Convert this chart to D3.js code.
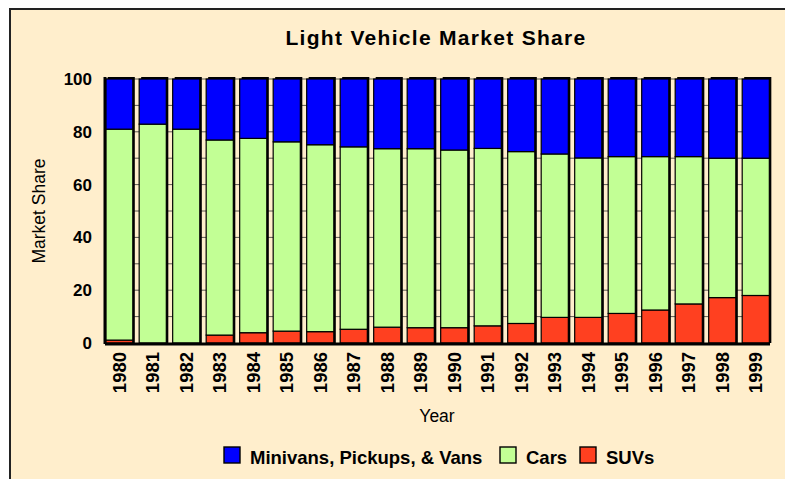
<!DOCTYPE html>
<html>
<head>
<meta charset="utf-8">
<script src="https://cdn.jsdelivr.net/npm/d3@7"></script>
<style>
  body { margin: 0; background: #fff; }
  text { font-family: "Liberation Sans", Arial, sans-serif; }
</style>
</head>
<body>
<script>
// Data
const years = ["1980","1981","1982","1983","1984","1985","1986","1987","1988","1989",
               "1990","1991","1992","1993","1994","1995","1996","1997","1998","1999"];
const suvs     = [1.1, 0.0, 0.0, 3.0, 3.9, 4.5, 4.3, 5.2, 6.0, 5.8, 5.8, 6.5, 7.4, 9.7, 9.7, 11.2, 12.5, 14.8, 17.2, 18.0];
const cars     = [79.9, 82.9, 81.0, 73.9, 73.6, 71.7, 70.8, 69.1, 67.6, 67.8, 67.3, 67.2, 65.1, 61.9, 60.4, 59.4, 58.1, 55.8, 52.8, 52.0];
const minivans = [19.0, 17.1, 19.0, 23.1, 22.5, 23.8, 24.9, 25.7, 26.4, 26.4, 26.9, 26.3, 27.5, 28.4, 29.9, 29.4, 29.4, 29.4, 30.0, 30.0];
const yTicks = [0, 20, 40, 60, 80, 100];

const seriesNames = ["SUVs", "Cars", "Minivans, Pickups, & Vans"];
const colors = { "SUVs": "#FF4020", "Cars": "#C2FF95", "Minivans, Pickups, & Vans": "#0000FF" };

const width = 785, height = 479;
const plot = { left: 105, right: 770, top: 79, bottom: 343 };

const svg = d3.select("body").append("svg")
  .attr("width", width)
  .attr("height", height);

// chart background frame
svg.append("rect")
  .attr("x", 10).attr("y", 9)
  .attr("width", width + 10).attr("height", height + 10)
  .attr("fill", "#FFEECC")
  .attr("stroke", "#222")
  .attr("stroke-width", 2);

const rows = years.map((y, i) => ({
  year: y,
  "SUVs": suvs[i],
  "Cars": cars[i],
  "Minivans, Pickups, & Vans": minivans[i]
}));

const stacked = d3.stack().keys(seriesNames)(rows);

const x = d3.scaleBand()
  .domain(years)
  .range([plot.left, plot.right])
  .paddingInner(0.19)
  .paddingOuter(0.02);

const y = d3.scaleLinear()
  .domain([0, 100])
  .range([plot.bottom, plot.top]);

// gridlines every 10 behind bars
svg.append("g")
  .selectAll("line")
  .data(d3.range(10, 101, 10))
  .enter().append("line")
  .attr("x1", plot.left).attr("x2", plot.right)
  .attr("y1", d => y(d)).attr("y2", d => y(d))
  .attr("stroke", "#333")
  .attr("stroke-width", 0.8);

// shadows
svg.append("g")
  .selectAll("rect")
  .data(rows)
  .enter().append("rect")
  .attr("x", d => x(d.year) + 2)
  .attr("y", y(100) - 2)
  .attr("width", x.bandwidth())
  .attr("height", y(0) - y(100) + 2)
  .attr("fill", "#000");

// stacked bars
svg.append("g")
  .selectAll("g")
  .data(stacked)
  .enter().append("g")
  .attr("fill", d => colors[d.key])
  .selectAll("rect")
  .data(d => d)
  .enter().append("rect")
  .attr("x", d => x(d.data.year))
  .attr("y", d => y(d[1]))
  .attr("width", x.bandwidth())
  .attr("height", d => y(d[0]) - y(d[1]))
  .attr("stroke", "#000")
  .attr("stroke-width", 1.2);

// axis lines
svg.append("line")
  .attr("x1", plot.left).attr("x2", plot.left)
  .attr("y1", plot.top - 2).attr("y2", plot.bottom + 1)
  .attr("stroke", "#000").attr("stroke-width", 3);
svg.append("line")
  .attr("x1", plot.left).attr("x2", plot.right)
  .attr("y1", plot.bottom + 1).attr("y2", plot.bottom + 1)
  .attr("stroke", "#000").attr("stroke-width", 3);

// y axis
const yAxis = d3.axisLeft(y).tickValues(yTicks).tickSize(0).tickPadding(13);
const yg = svg.append("g")
  .attr("transform", `translate(${plot.left},0)`)
  .call(yAxis);
yg.select(".domain").remove();
yg.selectAll("text")
  .style("font-family", "Liberation Sans, Arial, sans-serif")
  .style("font-size", "17px")
  .style("font-weight", "bold")
  .attr("fill", "#000");

// x axis
const xAxis = d3.axisBottom(x).tickSize(0);
const xg = svg.append("g")
  .attr("transform", `translate(0,${plot.bottom})`)
  .call(xAxis);
xg.select(".domain").remove();
xg.selectAll("text")
  .attr("transform", "rotate(-90)")
  .attr("x", -9)
  .attr("y", 0)
  .attr("dy", "0.35em")
  .style("text-anchor", "end")
  .style("font-family", "Liberation Sans, Arial, sans-serif")
  .style("font-size", "18.5px")
  .style("font-weight", "bold")
  .attr("fill", "#000");

// title
svg.append("text")
  .attr("x", 436)
  .attr("y", 45)
  .attr("text-anchor", "middle")
  .style("font-size", "21px")
  .style("font-weight", "bold")
  .style("letter-spacing", "1.3px")
  .text("Light Vehicle Market Share");

// axis titles
svg.append("text")
  .attr("x", 437)
  .attr("y", 422)
  .attr("text-anchor", "middle")
  .style("font-size", "17.5px")
  .text("Year");

svg.append("text")
  .attr("transform", "rotate(-90)")
  .attr("x", -211)
  .attr("y", 45)
  .attr("text-anchor", "middle")
  .style("font-size", "17.5px")
  .text("Market Share");

// legend
const legendItems = [
  { name: "Minivans, Pickups, & Vans", x: 224 },
  { name: "Cars", x: 500 },
  { name: "SUVs", x: 580 }
];
const legend = svg.append("g");
legend.selectAll("rect")
  .data(legendItems)
  .enter().append("rect")
  .attr("x", d => d.x)
  .attr("y", 447)
  .attr("width", 16)
  .attr("height", 16)
  .attr("fill", d => colors[d.name])
  .attr("stroke", "#000")
  .attr("stroke-width", 1.4);
legend.selectAll("text")
  .data(legendItems)
  .enter().append("text")
  .attr("x", d => d.x + 26)
  .attr("y", 464)
  .style("font-size", "18.5px")
  .style("font-weight", "bold")
  .text(d => d.name);
</script>
</body>
</html>
